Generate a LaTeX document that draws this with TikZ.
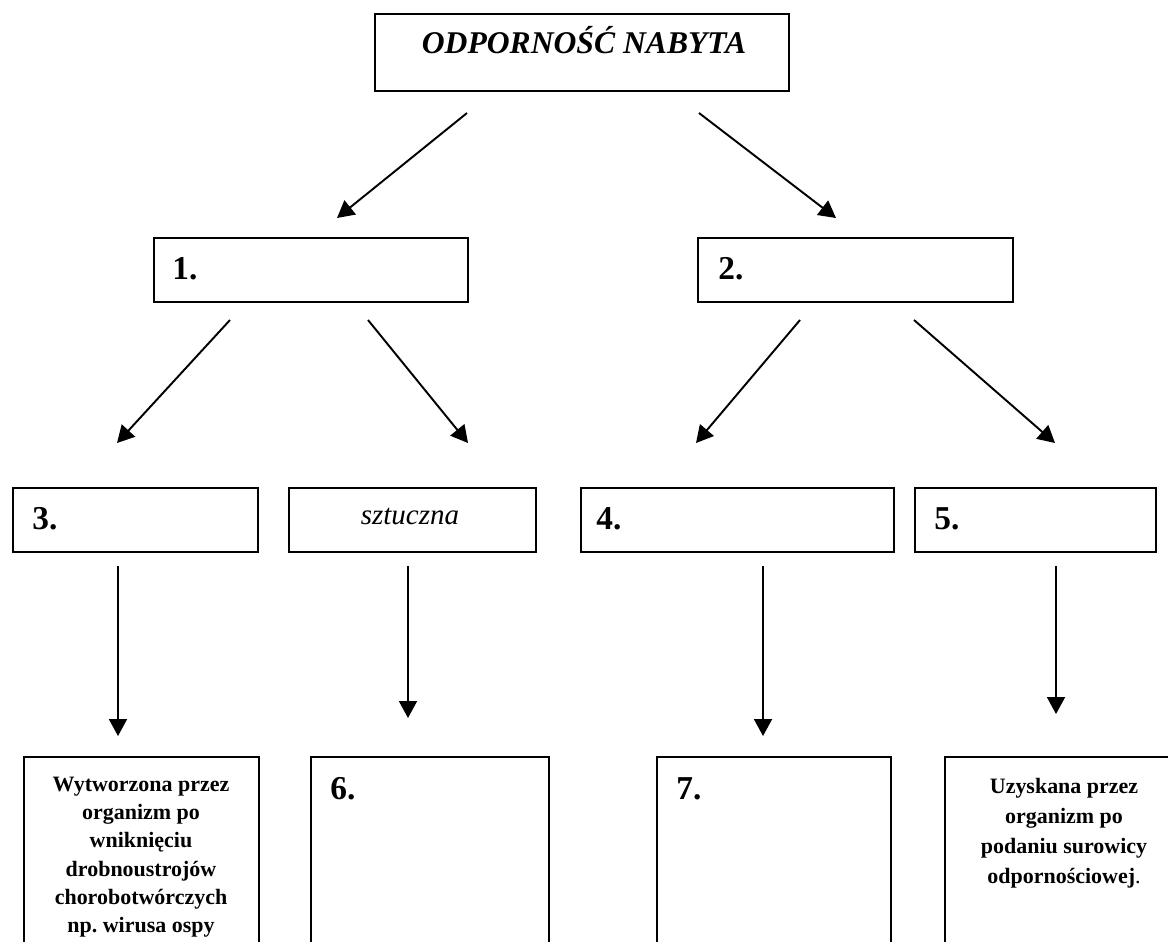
\documentclass[tikz,border=0pt]{standalone}
\usepackage{fontspec}
\setmainfont{Liberation Serif}
\usetikzlibrary{arrows.meta}
\tikzset{
  box/.style={draw, line width=1.1pt, inner sep=0pt, anchor=north west},
  arr/.style={line width=1.1pt, -{Triangle[length=0.34cm,width=0.36cm]}},
  num/.style={font=\fontsize{19}{22}\selectfont\bfseries, inner sep=0pt, anchor=base west},
  opis/.style={font=\fontsize{12.5}{16}\selectfont\bfseries, align=center, inner sep=0pt, anchor=north},
}
\begin{document}
\begin{tikzpicture}[x=0.02cm, y=-0.02cm]
	\useasboundingbox (0,0) rectangle (1168,941);
	\clip (0,0) rectangle (1168,941);
	% gorny prostokat
	\node[box, minimum width=8.28cm, minimum height=1.54cm] (top) at (374,13) {};
	\node[font=\fontsize{18}{22}\selectfont\bfseries\itshape, inner sep=0pt, anchor=base] (tytul) at (584,53) {ODPORNOŚĆ NABYTA};
	% drugi rzad
	\node[box, minimum width=6.28cm, minimum height=1.28cm] (b1) at (153,237) {};
	\node[box, minimum width=6.3cm, minimum height=1.28cm] (b2) at (697,237) {};
	\node[num] (n1) at (172,279) {1.};
	\node[num] (n2) at (718,279) {2.};
	% trzeci rzad
	\node[box, minimum width=4.9cm, minimum height=1.28cm] (b3) at (12,487) {};
	\node[box, minimum width=4.94cm, minimum height=1.28cm] (bs) at (288,487) {};
	\node[box, minimum width=6.26cm, minimum height=1.28cm] (b4) at (580,487) {};
	\node[box, minimum width=4.82cm, minimum height=1.28cm] (b5) at (914,487) {};
	\node[num] (n3) at (32,529) {3.};
	\node[font=\fontsize{16.5}{18}\selectfont\itshape, inner sep=0pt, anchor=base] (szt) at (410,524) {sztuczna};
	\node[num] (n4) at (596,529) {4.};
	\node[num] (n5) at (934,529) {5.};
	% dolne prostokaty
	\node[box, minimum width=4.7cm, minimum height=4.08cm] (bw) at (23,756) {};
	\node[box, minimum width=4.76cm, minimum height=4.08cm] (b6) at (310,756) {};
	\node[box, minimum width=4.68cm, minimum height=4.08cm] (b7) at (656,756) {};
	\node[box, minimum width=4.8cm, minimum height=4.08cm] (bu) at (944,756) {};
	\node[opis] (tw) at (141,777) {Wytworzona przez\\organizm po\\wniknięciu\\drobnoustrojów\\chorobotwórczych\\np.\ wirusa ospy};
	\node[num] (n6) at (330,799) {6.};
	\node[num] (n7) at (676,799) {7.};
	\node[opis, font=\fontsize{12.5}{17}\selectfont\bfseries] (tu) at (1064,778) {Uzyskana przez\\organizm po\\podaniu surowicy\\odpornościowej\textmd{.}};
	% strzalki
	\coordinate (p1) at (467,113); \coordinate (k1) at (337,218);
	\coordinate (p2) at (699,113); \coordinate (k2) at (836,218);
	\coordinate (p3) at (230,320); \coordinate (k3) at (117,443);
	\coordinate (p4) at (368,320); \coordinate (k4) at (468,443);
	\coordinate (p5) at (800,320); \coordinate (k5) at (696,443);
	\coordinate (p6) at (914,320); \coordinate (k6) at (1055,443);
	\coordinate (p7) at (118,566); \coordinate (k7) at (118,736);
	\coordinate (p8) at (408,566); \coordinate (k8) at (408,718);
	\coordinate (p9) at (763,566); \coordinate (k9) at (763,736);
	\coordinate (p10) at (1056,566); \coordinate (k10) at (1056,714);
	\foreach \i in {1,...,10}
		\draw[arr] (p\i) -- (k\i);
\end{tikzpicture}
\end{document}
